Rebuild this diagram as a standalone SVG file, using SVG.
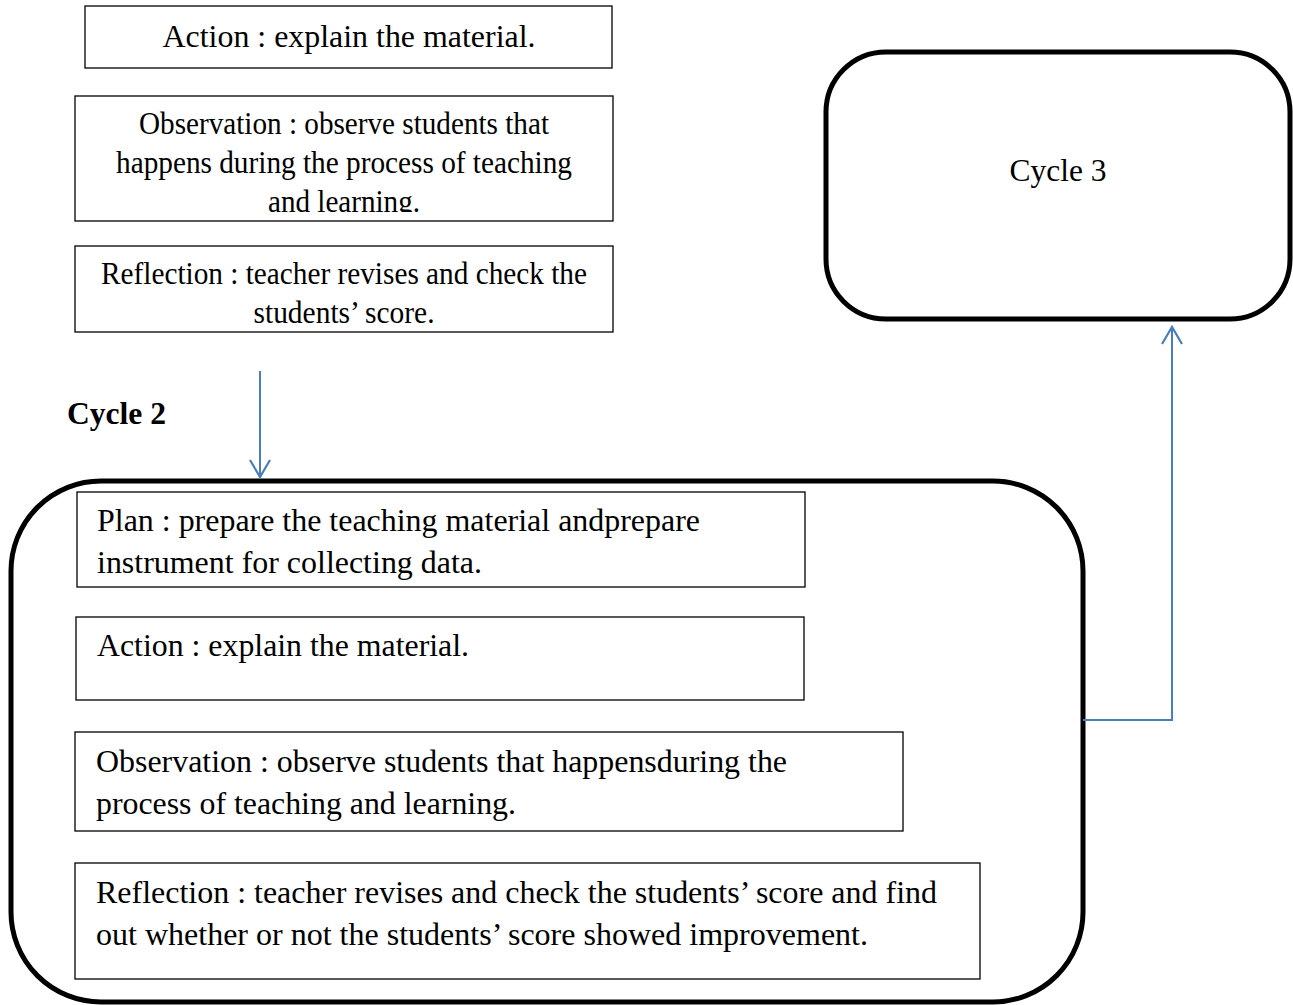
<svg xmlns="http://www.w3.org/2000/svg" width="1293" height="1005" viewBox="0 0 1293 1005">
<style>
.box{fill:#fff;stroke:#000;stroke-width:1.3}
.cyc{fill:#fff;stroke:#000;stroke-width:5}
.t{font-family:"Liberation Serif","Times New Roman",serif;font-size:32px;fill:#000}
.c{text-anchor:middle}
.b{font-weight:bold}
.con{fill:none;stroke:#4a7ebb;stroke-width:2}
</style>
<defs>
<marker id="ah" markerWidth="24" markerHeight="24" refX="19" refY="12" orient="auto" markerUnits="userSpaceOnUse">
<path d="M2,2 L19,12 L2,22" fill="none" stroke="#4a7ebb" stroke-width="2.2"/>
</marker>
<clipPath id="clipO1"><rect x="75" y="96" width="538" height="116"/></clipPath>
</defs>
<rect width="1293" height="1005" fill="#fff"/>
<g id="cycle2-frame">
<rect class="cyc" x="11" y="481" width="1072" height="521" rx="90" ry="90"/>
</g>
<g id="action1">
<rect class="box" x="85" y="6" width="527" height="62"/>
<text class="t c" x="349" y="47" textLength="373" lengthAdjust="spacingAndGlyphs">Action : explain the material.</text>
</g>
<g id="observation1">
<rect class="box" x="75" y="96" width="538" height="125"/>
<g clip-path="url(#clipO1)">
<text class="t c" x="344" y="134" textLength="410" lengthAdjust="spacingAndGlyphs">Observation : observe students that</text>
<text class="t c" x="344" y="173" textLength="456" lengthAdjust="spacingAndGlyphs">happens during the process of teaching</text>
<text class="t c" x="344" y="212" textLength="152" lengthAdjust="spacingAndGlyphs">and learning.</text>
</g>
</g>
<g id="reflection1">
<rect class="box" x="75" y="246" width="538" height="86"/>
<text class="t c" x="344" y="284" textLength="486" lengthAdjust="spacingAndGlyphs">Reflection : teacher revises and check the</text>
<text class="t c" x="344" y="323" textLength="181" lengthAdjust="spacingAndGlyphs">students’ score.</text>
</g>
<g id="cycle2-label">
<text class="t b" x="67" y="424" textLength="99" lengthAdjust="spacingAndGlyphs">Cycle 2</text>
</g>
<g id="plan2">
<rect class="box" x="77" y="492" width="728" height="95"/>
<text class="t" x="97" y="531" textLength="603" lengthAdjust="spacingAndGlyphs">Plan : prepare the teaching material andprepare</text>
<text class="t" x="97" y="573" textLength="385" lengthAdjust="spacingAndGlyphs">instrument for collecting data.</text>
</g>
<g id="action2">
<rect class="box" x="76" y="617" width="728" height="83"/>
<text class="t" x="97" y="656" textLength="372" lengthAdjust="spacingAndGlyphs">Action : explain the material.</text>
</g>
<g id="observation2">
<rect class="box" x="75" y="732" width="828" height="99"/>
<text class="t" x="96" y="772" textLength="691" lengthAdjust="spacingAndGlyphs">Observation : observe students that happensduring the</text>
<text class="t" x="96" y="814" textLength="420" lengthAdjust="spacingAndGlyphs">process of teaching and learning.</text>
</g>
<g id="reflection2">
<rect class="box" x="75" y="863" width="905" height="116"/>
<text class="t" x="96" y="903" textLength="841" lengthAdjust="spacingAndGlyphs">Reflection : teacher revises and check the students’ score and find</text>
<text class="t" x="96" y="945" textLength="772" lengthAdjust="spacingAndGlyphs">out whether or not the students’ score showed improvement.</text>
</g>
<g id="cycle3">
<rect class="cyc" x="826" y="52" width="464" height="267" rx="60" ry="60"/>
<text class="t c" x="1058" y="181" textLength="97" lengthAdjust="spacingAndGlyphs">Cycle 3</text>
</g>
<g id="connectors">
<line class="con" x1="260" y1="371" x2="260" y2="477" marker-end="url(#ah)"/>
<polyline class="con" points="1083,720 1172,720 1172,327" marker-end="url(#ah)"/>
</g>
</svg>
